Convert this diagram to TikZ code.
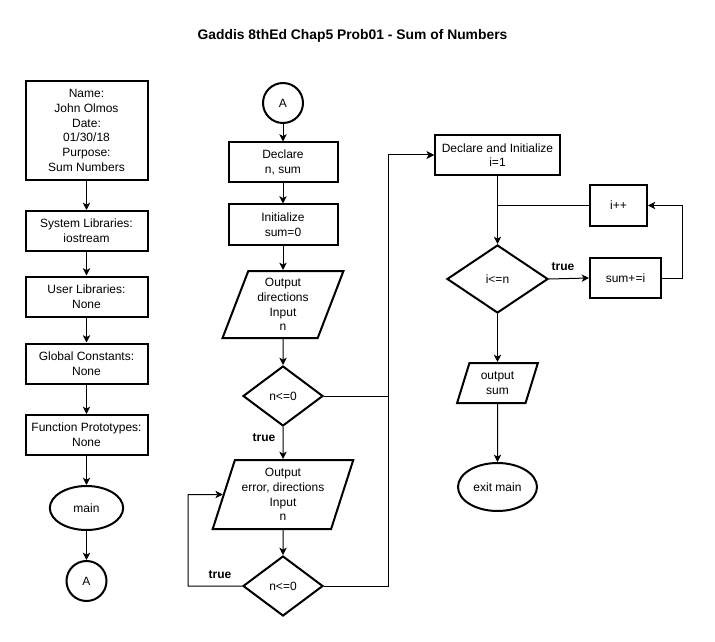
\documentclass[tikz,border=0pt]{standalone}
\usepackage{fontspec}
\setmainfont{Liberation Sans}
\usetikzlibrary{shapes.geometric,arrows.meta}
\begin{document}
\begin{tikzpicture}
    [
    x=0.75pt, y=-0.75pt,
    every node/.style={font=\fontsize{9}{11}\selectfont, align=center},
    box/.style={draw,line width=1.5pt,rectangle,inner sep=0pt,minimum width=91.5pt,minimum height=30pt},
    connector/.style={draw,line width=1.5pt,circle,inner sep=0pt,minimum size=30pt},
    terminal/.style={draw,line width=1.5pt,ellipse,inner sep=0pt,minimum width=55pt,minimum height=33pt},
    io/.style={draw,line width=1.5pt,trapezium,trapezium left angle=70,trapezium right angle=110,trapezium stretches=true,inner sep=0pt},
    decision/.style={draw,line width=1.5pt,diamond,inner sep=0pt,minimum width=60pt,minimum height=45pt},
    flow/.style={-{Stealth[length=5.5pt,width=5.5pt,inset=1.5pt]},line width=0.75pt},
    yes/.style={font=\fontsize{9}{11}\selectfont\bfseries}
    ]
    \useasboundingbox (0,0) rectangle (715,642);
    \node (title) at (352.5,36) [font=\fontsize{10.4}{12}\selectfont\bfseries] {Gaddis 8thEd Chap5 Prob01 - Sum of Numbers};

    % header and main
    \node (name) at (86.5,130.5) [box,minimum height=74.25pt] {Name:\\John Olmos\\Date:\\01/30/18\\Purpose:\\Sum Numbers};
    \node (syslib) at (86.5,231) [box] {System Libraries:\\iostream};
    \node (userlib) at (86.5,296.5) [box] {User Libraries:\\None};
    \node (global) at (86.5,363.5) [box] {Global Constants:\\None};
    \node (proto) at (86.5,435) [box] {Function Prototypes:\\None};
    \node (main) at (86.5,508) [terminal] {main};
    \node (a1) at (86.5,581) [connector] {A};
    \draw [flow] (name) to (syslib);
    \draw [flow] (syslib) to (userlib);
    \draw [flow] (userlib) to (global);
    \draw [flow] (global) to (proto);
    \draw [flow] (proto) to (main);
    \draw [flow] (main) to (a1);

    % input
    \node (a2) at (283,103) [connector] {A};
    \node (declare) at (283,162.5) [box,minimum width=81.75pt] {Declare\\n, sum};
    \node (init) at (283,224.5) [box,minimum width=81.75pt] {Initialize\\sum=0};
    \node (input1) at (283,304.5) [io,minimum width=90.75pt,minimum height=50.25pt] {Output\\directions\\Input\\n};
    \node (check1) at (283,396) [decision] {n<=0};
    \node (input2) at (283,494.5) [io,minimum width=105.75pt,minimum height=51.75pt] {Output\\error, directions\\Input\\n};
    \node (check2) at (283,586) [decision] {n<=0};
    \draw [flow] (a2) to (declare);
    \draw [flow] (declare) to (init);
    \draw [flow] (init) to (input1);
    \draw [flow] (input1) to (check1);
    \draw [flow] (check1) to (input2);
    \draw [flow] (input2) to (check2);
    \node (true1) at (264,438) [yes] {true};
    \node (true2) at (220,575) [yes] {true};

    % sum loop
    \node (setup) at (497.5,155) [box,minimum width=93.75pt] {Declare and Initialize\\i=1};
    \node (incr) at (618.5,205.5) [box,minimum width=42.75pt] {i++};
    \node (check3) at (497.5,279) [decision,minimum width=75.75pt,minimum height=51pt] {i<=n};
    \node (add) at (625.5,278) [box,minimum width=53.25pt] {sum+=i};
    \node (output) at (497.5,383) [io,trapezium left angle=72,trapezium right angle=108,minimum width=60.75pt,minimum height=30pt] {output\\sum};
    \node (exit) at (497.5,487) [terminal,minimum width=59.25pt,minimum height=36pt] {exit main};
    \node (true3) at (563,267) [yes] {true};

    \coordinate (rise) at (388,155);
    \coordinate (back) at (188,494.5);
    \coordinate (merge) at (497.5,205.5);
    \coordinate (loop) at (682,205.5);
    \draw [flow] (check1.east) -| (rise) -- (setup.west);
    \draw [flow] (check2.east) -| (rise) -- (setup.west);
    \draw [flow] (check2.west) -| (back) -- (input2.west);
    \draw [flow] (setup) to (check3);
    \draw [-, line width=0.75pt] (incr.west) to (merge);
    \draw [flow] (check3.east) to (add.west);
    \draw [flow] (add.east) -| (loop) -- (incr.east);
    \draw [flow] (check3) to (output);
    \draw [flow] (output) to (exit);
  \end{tikzpicture}
\end{document}
